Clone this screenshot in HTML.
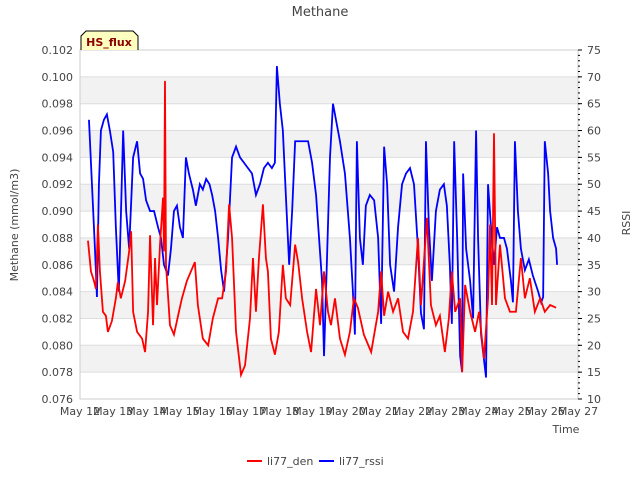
<!DOCTYPE html>
<html><head><meta charset="utf-8"><style>
body{margin:0;background:#fff;font-family:"Liberation Sans",sans-serif}
svg text{font-family:"DejaVu Sans","Liberation Sans",sans-serif;fill:#444}
</style></head><body>
<svg id="chart" width="640" height="480">
<text x="320" y="16" text-anchor="middle" font-size="13">Methane</text>
<g id="bands"></g><g id="grid"></g>
<rect x="80" y="50" width="498" height="349" fill="none" stroke="#ccc"/>
<g id="axes"></g>
<g id="series"></g>
<text transform="translate(18,225) rotate(-90)" text-anchor="middle" font-size="11">Methane (mmol/m3)</text>
<text transform="translate(630,223) rotate(-90)" text-anchor="middle" font-size="11">RSSI</text>
<text x="566" y="433" text-anchor="middle" font-size="11">Time</text>
<g>
<path d="M81,50 L81,36 L86,31 L133,31 L138,36 L138,50 Z" fill="#ffffc0" stroke="none"/>
<path d="M81,50 L81,36 L86,31 L133,31 L138,36 L138,50" fill="none" stroke="#000"/>
<text x="109" y="46" text-anchor="middle" font-size="11" font-weight="bold" style="fill:#8b0000">HS_flux</text></g>
<g>
<line x1="247" y1="461" x2="262" y2="461" stroke="red" stroke-width="2"/>
<text x="267" y="465" font-size="11">li77_den</text>
<line x1="319" y1="461" x2="334" y2="461" stroke="blue" stroke-width="2"/>
<text x="339" y="465" font-size="11">li77_rssi</text></g>
</svg>
<script>
const xLabels=["May 12","May 13","May 14","May 15","May 16","May 17","May 18","May 19","May 20","May 21","May 22","May 23","May 24","May 25","May 26","May 27"];
const yTicks=[0.076,0.078,0.080,0.082,0.084,0.086,0.088,0.090,0.092,0.094,0.096,0.098,0.100,0.102];
const y2Ticks=[10,15,20,25,30,35,40,45,50,55,60,65,70,75];
const denT=[0.24,0.33,0.42,0.48,0.54,0.6,0.69,0.78,0.84,0.96,1.08,1.14,1.23,1.36,1.48,1.54,1.6,1.72,1.87,1.96,2.05,2.11,2.2,2.26,2.32,2.41,2.5,2.53,2.56,2.59,2.71,2.83,2.98,3.07,3.22,3.46,3.55,3.7,3.86,4.0,4.16,4.28,4.4,4.49,4.58,4.7,4.85,4.97,5.12,5.21,5.3,5.39,5.51,5.6,5.66,5.75,5.87,5.99,6.11,6.2,6.33,6.48,6.57,6.69,6.84,6.96,7.11,7.23,7.35,7.47,7.56,7.68,7.83,7.98,8.13,8.25,8.37,8.55,8.77,8.98,9.07,9.16,9.28,9.43,9.58,9.73,9.88,10.03,10.18,10.27,10.45,10.57,10.72,10.84,10.99,11.11,11.2,11.3,11.45,11.51,11.6,11.75,11.9,12.02,12.17,12.29,12.35,12.41,12.47,12.53,12.65,12.8,12.95,13.13,13.28,13.4,13.55,13.7,13.86,14.0,14.16,14.34];
const denV=[0.0878,0.0855,0.0848,0.0842,0.089,0.0855,0.0825,0.0822,0.081,0.0818,0.0835,0.0847,0.0835,0.0848,0.087,0.0885,0.0825,0.081,0.0805,0.0795,0.0825,0.0882,0.0815,0.0865,0.083,0.0875,0.091,0.087,0.0997,0.086,0.0815,0.0808,0.0825,0.0835,0.0848,0.0862,0.083,0.0805,0.080,0.082,0.0835,0.0835,0.0855,0.0905,0.088,0.081,0.0778,0.0785,0.082,0.0865,0.0825,0.0865,0.0905,0.0865,0.0855,0.0805,0.0793,0.081,0.086,0.0835,0.083,0.0875,0.0862,0.0835,0.081,0.0795,0.0842,0.0815,0.0855,0.0825,0.0815,0.0835,0.0805,0.0793,0.081,0.0835,0.0828,0.0808,0.0795,0.0825,0.0855,0.0822,0.084,0.0825,0.0835,0.081,0.0805,0.0825,0.088,0.083,0.0895,0.083,0.0815,0.0822,0.0795,0.082,0.0855,0.0825,0.0835,0.078,0.0845,0.0825,0.081,0.0825,0.079,0.0835,0.089,0.083,0.0958,0.083,0.0875,0.0835,0.0825,0.0825,0.0865,0.0835,0.085,0.0825,0.0835,0.0825,0.083,0.0828];
const rssiT=[0.27,0.36,0.45,0.51,0.57,0.63,0.72,0.81,0.9,1.0,1.08,1.17,1.3,1.39,1.48,1.6,1.72,1.81,1.9,1.99,2.11,2.23,2.35,2.44,2.53,2.65,2.74,2.83,2.92,3.01,3.1,3.19,3.28,3.4,3.49,3.61,3.7,3.8,3.9,3.98,4.07,4.16,4.25,4.34,4.46,4.58,4.7,4.82,4.94,5.06,5.18,5.3,5.42,5.54,5.66,5.78,5.87,5.93,6.02,6.11,6.2,6.3,6.39,6.48,6.63,6.75,6.87,6.99,7.11,7.2,7.29,7.35,7.41,7.53,7.62,7.71,7.83,7.98,8.13,8.22,8.28,8.34,8.43,8.52,8.61,8.73,8.86,8.98,9.07,9.16,9.25,9.34,9.46,9.58,9.7,9.82,9.94,10.06,10.18,10.27,10.36,10.42,10.51,10.6,10.72,10.84,10.96,11.05,11.14,11.2,11.27,11.36,11.45,11.51,11.54,11.63,11.75,11.84,11.93,11.99,12.08,12.23,12.29,12.38,12.47,12.56,12.65,12.77,12.86,12.98,13.04,13.1,13.19,13.28,13.4,13.52,13.64,13.8,13.89,13.95,14.0,14.1,14.16,14.25,14.34,14.37];
const rssiV=[62,50,38,29,50,60,62,63,60,56,42,30,60,45,38,55,58,52,51,47,45,45,42,40,35,33,38,45,46,42,40,55,52,49,46,50,49,51,50,48,45,40,34,30,40,55,57,55,54,53,52,48,50,53,54,53,54,72,65,60,48,35,45,58,58,58,58,54,48,40,32,18,30,55,65,62,58,52,40,30,22,58,40,35,46,48,47,40,24,57,50,35,30,42,50,52,53,50,38,26,23,58,42,32,45,49,50,46,35,24,58,40,18,15,52,38,32,25,60,40,22,14,50,42,35,42,40,40,38,32,28,58,45,38,34,36,33,30,28,29,58,52,45,40,38,35];
const NS="http://www.w3.org/2000/svg";
const X0=80,X1=578,Y0=399,Y1=50;
const xs=d=>X0+(X1-X0)*d/15;
const ys=v=>Y0-(Y0-Y1)*(v-0.076)/0.026;
const y2s=v=>Y0-(Y0-Y1)*(v-10)/65;
function mk(tag,attrs,parent){const e=document.createElementNS(NS,tag);for(const k in attrs)e.setAttribute(k,attrs[k]);parent.appendChild(e);return e;}
const bands=document.getElementById('bands'),grid=document.getElementById('grid'),axes=document.getElementById('axes'),series=document.getElementById('series');
for(let i=1;i<yTicks.length-1;i+=2){const r=mk('rect',{x:X0,y:ys(yTicks[i+1]),width:X1-X0,height:ys(yTicks[i])-ys(yTicks[i+1]),fill:'#f2f2f2'},bands);

}
yTicks.forEach(v=>{const y=ys(v);const l=mk('line',{x1:X0,x2:X1,y1:y,y2:y,stroke:'#ddd'},grid);


const t=mk('text',{x:73,y:y+4,'text-anchor':'end','font-size':11},axes);t.textContent=v.toFixed(3);

});
y2Ticks.forEach(v=>{const y=y2s(v);const t=mk('text',{x:587,y:y+4,'font-size':11},axes);t.textContent=v;


mk('line',{x1:X1,x2:X1+4,y1:y,y2:y,stroke:'#000'},axes);});
for(let v=10;v<=75;v++){const y=y2s(v);mk('line',{x1:X1,x2:X1+2,y1:y,y2:y,stroke:'#000'},axes);}
xLabels.forEach((s,i)=>{const t=mk('text',{x:xs(i),y:415,'text-anchor':'middle','font-size':11},axes);t.textContent=s;

});
const pb=mk('polyline',{points:rssiT.map((t,i)=>xs(t)+','+y2s(rssiV[i])).join(' '),fill:'none',stroke:'blue','stroke-width':1.8},series);


const pr=mk('polyline',{points:denT.map((t,i)=>xs(t)+','+ys(denV[i])).join(' '),fill:'none',stroke:'red','stroke-width':1.8},series);


</script>
</body></html>
